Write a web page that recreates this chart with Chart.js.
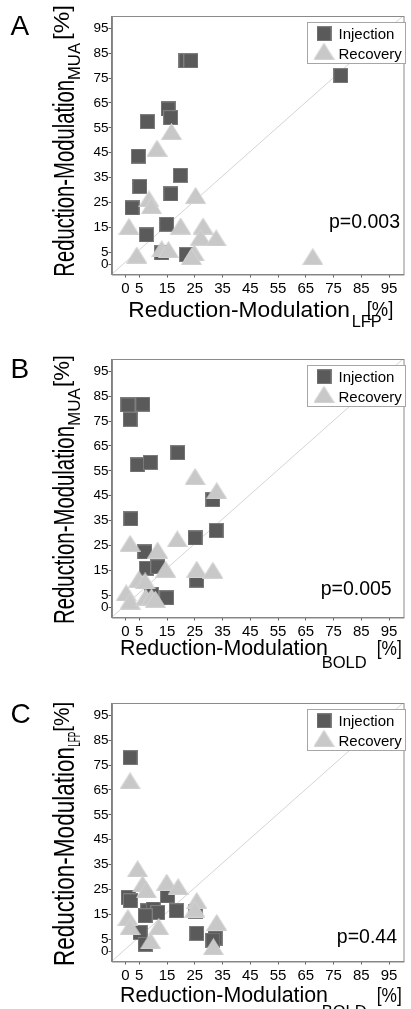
<!DOCTYPE html>
<html>
<head>
<meta charset="utf-8">
<script src="https://cdn.jsdelivr.net/npm/chart.js@4/dist/chart.umd.min.js"></script>
<style>
  html, body { margin: 0; padding: 0; background: #fff; width: 411px; height: 1009px; overflow: hidden; }
  canvas { position: absolute; left: 0; }
</style>
</head>
<body>
<canvas id="chart-a" width="414" height="344" style="top:0px"></canvas>
<canvas id="chart-b" width="414" height="344" style="top:343px"></canvas>
<canvas id="chart-c" width="414" height="344" style="top:687px"></canvas>
<script>
// ---- data ----
const tickValues = [0, 5, 15, 25, 35, 45, 55, 65, 75, 85, 95];
const seriesNames = ['Injection', 'Recovery'];
const panelLetters = ['A', 'B', 'C'];
const yMeasures = ['MUA', 'MUA', 'LFP'];
const xMeasures = ['LFP', 'BOLD', 'BOLD'];
const pLabels = ['p=0.003', 'p=0.005', 'p=0.44'];
const diagX = [-5, 100];
const diagY = [-4, 100];

// A: MUA vs LFP
const aInjX = [21.8, 23.6, 77.6, 15.4, 16.3, 7.9, 4.7, 19.8, 5.2, 16.4, 2.4, 14.9, 7.6, 13.1, 22.0];
const aInjY = [82.0, 82.0, 76.0, 62.6, 59.1, 57.5, 43.6, 35.9, 31.4, 28.4, 22.8, 16.2, 11.9, 4.7, 4.0];
const aRecX = [16.6, 11.4, 8.5, 9.4, 25.3, 1.3, 19.9, 28.0, 27.1, 32.7, 4.1, 13.1, 15.5, 24.8, 23.8, 67.5];
const aRecY = [53.5, 46.8, 26.4, 23.7, 27.8, 15.3, 15.5, 15.5, 11.0, 10.7, 3.8, 6.3, 6.0, 4.7, 3.2, 3.2];

// B: MUA vs BOLD
const bInjX = [0.9, 6.3, 1.7, 4.4, 9.0, 18.9, 31.5, 2.0, 32.7, 25.1, 7.0, 7.6, 11.7, 25.7, 9.4, 14.9];
const bInjY = [81.5, 81.8, 75.7, 57.4, 58.4, 62.3, 43.4, 35.7, 31.0, 28.0, 22.4, 15.8, 16.4, 11.0, 5.3, 3.9];
const bRecX = [25.1, 32.9, 1.7, 11.6, 18.7, 14.5, 25.7, 31.5, 4.8, 7.1, 0.3, 1.7, 7.3, 9.4, 10.8];
const bRecY = [52.7, 47.0, 25.8, 23.1, 27.6, 15.4, 15.4, 15.0, 11.4, 10.7, 5.9, 2.6, 4.2, 4.2, 3.3];

// C: LFP vs BOLD
const cInjX = [1.7, 1.0, 1.8, 15.2, 8.0, 10.0, 11.7, 7.1, 18.4, 25.3, 25.7, 32.3, 31.5, 5.3, 7.1];
const cInjY = [78.0, 21.8, 20.4, 22.4, 16.4, 17.1, 15.7, 14.4, 16.4, 16.2, 7.3, 5.4, 4.6, 7.7, 2.9];
const cRecX = [1.7, 4.4, 6.2, 7.6, 14.9, 19.0, 25.7, 25.0, 0.9, 1.7, 12.0, 9.1, 32.9, 31.7];
const cRecY = [68.7, 33.3, 27.2, 24.8, 27.9, 26.1, 20.5, 17.1, 13.7, 10.0, 10.0, 4.3, 11.7, 1.9];

// ---- layout (canvas pixels, per panel) ----
const FONT = "'Liberation Sans', Arial, sans-serif";
const layouts = [
    { letterY: 35, xMain: [128.3, 350, 316.7, 22.5], xSub: [351.7, 381.7, 326.7, 17], xPct: [366.7, 393.3, 315.5, 21],
      yMain: [276.7, 80, 74], ySub: [80, 43, 80], yPct: [40, 5, 69], p: [400, 228] },
    { letterY: 35.3, xMain: [120, 328, 312, 21.5], xSub: [321.7, 366.7, 325, 16.5], xPct: [376.7, 401.7, 312, 21],
      yMain: [281, 83, 74], ySub: [83, 45, 80], yPct: [44, 12, 69], p: [391.7, 252] },
    { letterY: 36, xMain: [120, 328, 314.7, 21.5], xSub: [321.7, 366.7, 330, 16.5], xPct: [376.7, 401.7, 314.7, 21],
      yMain: [279, 60, 74], ySub: [59.7, 44.7, 80], yPct: [44.7, 14.7, 69], p: [397, 255.7] }
];

function markerSquare() {
    const c = document.createElement('canvas');
    c.width = 15; c.height = 15;
    const g = c.getContext('2d');
    g.fillStyle = '#5a5a5a';
    g.fillRect(0, 0, 15, 15);
    g.strokeStyle = '#7e7e7e';
    g.strokeRect(0.5, 0.5, 14, 14);
    return c;
}

function markerTriangle() {
    const c = document.createElement('canvas');
    c.width = 21; c.height = 17;
    const g = c.getContext('2d');
    g.beginPath();
    g.moveTo(10.5, 0.5);
    g.lineTo(20.5, 16.5);
    g.lineTo(0.5, 16.5);
    g.closePath();
    g.fillStyle = '#c8c8c8';
    g.fill();
    g.strokeStyle = '#d2d2d2';
    g.stroke();
    return c;
}

const squareImg = markerSquare();
const triImg = markerTriangle();

function pts(xs, ys) {
    return xs.map((x, i) => ({ x, y: ys[i] }));
}

// horizontal text squeezed/stretched to a measured span
function textSpan(ctx, s, x0, x1, base, size) {
    ctx.save();
    ctx.font = size + 'px ' + FONT;
    const w = ctx.measureText(s).width;
    ctx.translate(x0, base);
    ctx.scale((x1 - x0) / w, 1);
    ctx.fillText(s, 0, 0);
    ctx.restore();
}

// vertical text reading bottom to top
function textUp(ctx, s, y0, y1, base, size, thick) {
    ctx.save();
    ctx.font = size + 'px ' + FONT;
    const w = ctx.measureText(s).width;
    ctx.translate(base, y0);
    ctx.rotate(-Math.PI / 2);
    ctx.scale((y0 - y1) / w, thick);
    ctx.fillText(s, 0, 0);
    ctx.restore();
}

const decor = {
    id: 'decor',
    afterDatasetsDraw(chart, args, opts) {
        const ctx = chart.ctx;
        const a = chart.chartArea;
        ctx.save();
        // box
        ctx.strokeStyle = '#8a8a8a';
        ctx.lineWidth = 1;
        ctx.strokeRect(Math.round(a.left) + 0.5, Math.round(a.top) + 0.5, a.right - a.left, a.bottom - a.top);
        // legend
        ctx.fillStyle = '#fff';
        ctx.fillRect(307.5, 22.5, 98, 41);
        ctx.strokeStyle = '#a6a6a6';
        ctx.strokeRect(307.5, 22.5, 98, 41);
        ctx.drawImage(squareImg, 324 - squareImg.width / 2, 33.7 - squareImg.height / 2);
        ctx.drawImage(triImg, 324 - triImg.width / 2, 51.3 - triImg.height / 2);
        ctx.fillStyle = '#000';
        ctx.font = '15px ' + FONT;
        ctx.textBaseline = 'alphabetic';
        ctx.fillText(seriesNames[0], 338.5, 39.3);
        ctx.fillText(seriesNames[1], 338.5, 59.3);
        ctx.restore();
    },
    afterDraw(chart, args, opts) {
        const ctx = chart.ctx;
        const L = layouts[opts.idx];
        ctx.save();
        ctx.fillStyle = '#000';
        ctx.textBaseline = 'alphabetic';
        // panel letter
        ctx.font = '28px ' + FONT;
        ctx.fillText(panelLetters[opts.idx], 10.5, L.letterY);
        // p value
        ctx.font = '19.5px ' + FONT;
        ctx.textAlign = 'right';
        ctx.fillText(pLabels[opts.idx], L.p[0], L.p[1]);
        ctx.textAlign = 'left';
        // x title
        textSpan(ctx, 'Reduction-Modulation', L.xMain[0], L.xMain[1], L.xMain[2], L.xMain[3]);
        textSpan(ctx, xMeasures[opts.idx], L.xSub[0], L.xSub[1], L.xSub[2], L.xSub[3]);
        textSpan(ctx, '[%]', L.xPct[0], L.xPct[1], L.xPct[2], L.xPct[3]);
        // y title
        textUp(ctx, 'Reduction-Modulation', L.yMain[0], L.yMain[1], L.yMain[2], 21, 1.4);
        textUp(ctx, yMeasures[opts.idx], L.ySub[0], L.ySub[1], L.ySub[2], 16, 1);
        textUp(ctx, '[%]', L.yPct[0], L.yPct[1], L.yPct[2], 22, 1);
        ctx.restore();
    }
};

function axis(min, max, size, fit, pad) {
    return {
        type: 'linear',
        min: min,
        max: max,
        afterBuildTicks: s => { s.ticks = tickValues.map(v => ({ value: v })); },
        afterFit: fit,
        grid: { drawOnChartArea: false, drawTicks: true, tickLength: 3, color: '#5e5e5e' },
        border: { display: true, color: '#808080', width: 1 },
        ticks: { color: '#000', font: { family: FONT, size: size }, padding: pad, autoSkip: false, maxRotation: 0 }
    };
}

function makeChart(id, idx, inj, rec) {
    return new Chart(document.getElementById(id), {
        type: 'scatter',
        data: {
            datasets: [
                { label: seriesNames[1], data: rec, pointStyle: triImg, pointRadius: 10, order: 1, clip: false },
                { label: seriesNames[0], data: inj, pointStyle: squareImg, pointRadius: 10, order: 2, clip: false },
                { label: 'diagonal', data: pts(diagX, diagY), showLine: true, pointRadius: 0,
                  borderColor: '#d4d4d4', borderWidth: 1, order: 3 }
            ]
        },
        options: {
            responsive: false,
            animation: false,
            events: [],
            layout: { padding: { top: 16, right: 1.5, bottom: 0, left: 0 } },
            plugins: { legend: { display: false }, tooltip: { enabled: false }, decor: { idx: idx } },
            scales: {
                x: axis(-5, 100, 15, s => { s.height = 69.5; }, 2),
                y: axis(-4, 100, 13.5, s => { s.width = 111.5; }, 0)
            }
        },
        plugins: [decor]
    });
}

makeChart('chart-a', 0, pts(aInjX, aInjY), pts(aRecX, aRecY));
makeChart('chart-b', 1, pts(bInjX, bInjY), pts(bRecX, bRecY));
makeChart('chart-c', 2, pts(cInjX, cInjY), pts(cRecX, cRecY));
</script>
</body>
</html>
